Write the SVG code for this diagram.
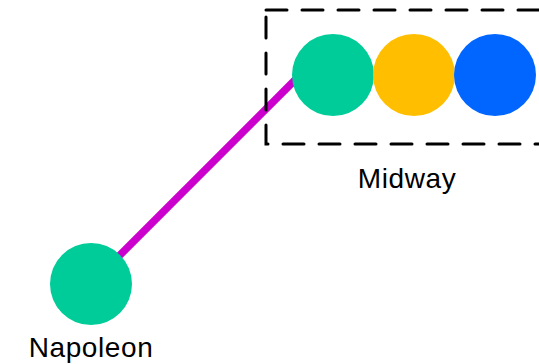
<svg xmlns="http://www.w3.org/2000/svg" width="539" height="364" viewBox="0 0 539 364">
<style>
.lbl{font-family:"Liberation Sans",Arial,sans-serif;font-size:28px;fill:#000;text-anchor:middle;letter-spacing:0.6px}
.edge{stroke:#CC00CC;stroke-width:7.5;fill:none}
.grp{fill:none;stroke:#000;stroke-width:3;stroke-dasharray:21 15;stroke-linecap:round}
</style>
<rect width="539" height="364" fill="#fff"/>
<g id="connectors">
<line class="edge" x1="91" y1="284" x2="300" y2="75"/>
</g>
<g id="midway">
<path class="grp" d="M266,10 H560 V144 H266 Z"/>
<circle cx="333" cy="75" r="41" fill="#00CC99"/>
<circle cx="414" cy="75" r="41" fill="#FFBF00"/>
<circle cx="495" cy="75" r="41" fill="#0066FF"/>
<text class="lbl" x="407" y="188">Midway</text>
</g>
<g id="napoleon">
<circle cx="91" cy="284" r="41" fill="#00CC99"/>
<text class="lbl" x="91" y="357">Napoleon</text>
</g>
</svg>
